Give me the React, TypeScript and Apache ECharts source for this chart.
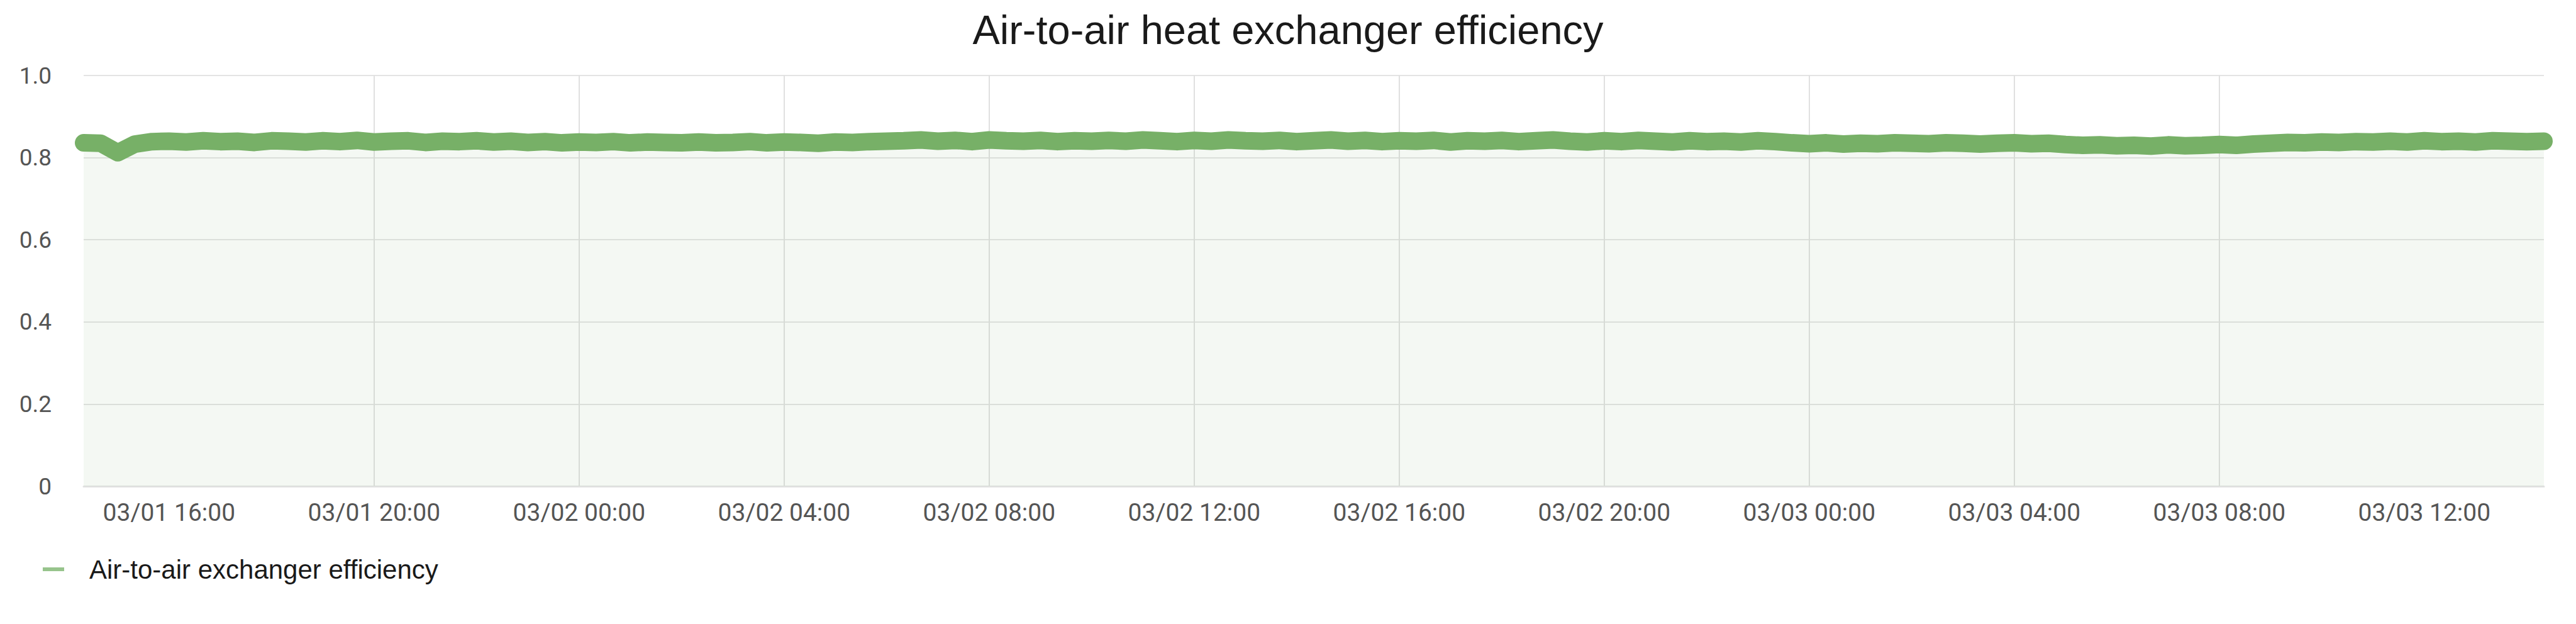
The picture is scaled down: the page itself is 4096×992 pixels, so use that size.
import React, { useEffect, useRef } from "react";
import * as echarts from "echarts";

const TITLE = "Air-to-air heat exchanger efficiency";
const SERIES_NAME = "Air-to-air exchanger efficiency";

// x is measured in hours since 03/01 00:00; samples every 20 minutes from 03/01 14:20
const START_HOUR = 14 + 20 / 60;
const STEP_HOURS = 20 / 60;
const END_HOUR = START_HOUR + 48;

const VALUES = [
  0.836, 0.835, 0.812, 0.833, 0.839, 0.840, 0.838, 0.841, 0.839, 0.840, 0.837, 0.841,
  0.840, 0.838, 0.841, 0.839, 0.842, 0.838, 0.840, 0.841, 0.837, 0.840, 0.839, 0.841,
  0.838, 0.840, 0.837, 0.839, 0.836, 0.838, 0.837, 0.839, 0.836, 0.838, 0.837, 0.836,
  0.838, 0.836, 0.837, 0.839, 0.836, 0.838, 0.837, 0.835, 0.838, 0.837, 0.839, 0.840,
  0.841, 0.843, 0.840, 0.842, 0.839, 0.843, 0.841, 0.840, 0.842, 0.839, 0.841, 0.840,
  0.842, 0.840, 0.843, 0.841, 0.839, 0.842, 0.840, 0.843, 0.841, 0.840, 0.842, 0.839,
  0.841, 0.843, 0.840, 0.842, 0.839, 0.841, 0.840, 0.842, 0.838, 0.841, 0.840, 0.842,
  0.839, 0.841, 0.843, 0.840, 0.838, 0.841, 0.839, 0.842, 0.840, 0.838, 0.841, 0.839,
  0.840, 0.838, 0.841, 0.839, 0.836, 0.834, 0.836, 0.833, 0.835, 0.834, 0.836, 0.835,
  0.834, 0.836, 0.835, 0.833, 0.835, 0.836, 0.834, 0.835, 0.832, 0.830, 0.831, 0.829,
  0.830, 0.828, 0.831, 0.829, 0.830, 0.832, 0.830, 0.833, 0.835, 0.837, 0.836, 0.838,
  0.837, 0.839, 0.838, 0.840, 0.838, 0.841, 0.839, 0.840, 0.838, 0.841, 0.840, 0.839,
  0.840,
];

const X_TICK_HOURS = [16, 20, 24, 28, 32, 36, 40, 44, 48, 52, 56, 60];
const X_TICK_LABELS = [
  "03/01 16:00", "03/01 20:00", "03/02 00:00", "03/02 04:00", "03/02 08:00", "03/02 12:00",
  "03/02 16:00", "03/02 20:00", "03/03 00:00", "03/03 04:00", "03/03 08:00", "03/03 12:00",
];
const Y_MIN = 0;
const Y_MAX = 1;
const Y_STEP = 0.2;

export default function App() {
  const ref = useRef<HTMLDivElement>(null);

  useEffect(() => {
    if (!ref.current) return;
    const chart = echarts.init(ref.current, undefined, { renderer: "svg" });
    const data = VALUES.map((v, i) => [START_HOUR + i * STEP_HOURS, v]);
    const lineColor = "#77b067";

    chart.setOption({
      animation: false,
      backgroundColor: "#ffffff",
      title: {
        text: TITLE,
        left: "center",
        top: 15,
        padding: 0,
        textStyle: {
          fontFamily: "'Liberation Sans', Arial, sans-serif",
          fontSize: 65,
          fontWeight: "normal",
          color: "#1a1a1a",
        },
      },
      legend: {
        left: 68,
        top: 884,
        padding: 0,
        itemWidth: 34,
        itemHeight: 6,
        icon: "rect",
        data: [{ name: SERIES_NAME, itemStyle: { color: "#97c48c" } }],
        textStyle: {
          fontFamily: "'Liberation Sans', Arial, sans-serif",
          fontSize: 42,
          color: "#1a1a1a",
          padding: [0, 0, 0, 35],
        },
      },
      grid: { left: 133, right: 51, top: 120, bottom: 219, containLabel: false },
      xAxis: {
        type: "value",
        min: START_HOUR,
        max: END_HOUR,
        axisLine: { show: true, lineStyle: { color: "#e2e2e2", width: 3 } },
        axisTick: { show: false, customValues: X_TICK_HOURS },
        axisLabel: {
          customValues: X_TICK_HOURS,
          margin: 22,
          fontFamily: "Roboto, sans-serif",
          fontSize: 39,
          color: "#555555",
          formatter: (v: number) => {
            const idx = X_TICK_HOURS.indexOf(Math.round(v));
            return idx >= 0 ? X_TICK_LABELS[idx] : "";
          },
        },
        splitLine: {
          show: true,
          showMinLine: false,
          showMaxLine: false,
          lineStyle: { color: "#e0e0e0", width: 2 },
        },
      },
      yAxis: {
        type: "value",
        min: Y_MIN,
        max: Y_MAX,
        interval: Y_STEP,
        axisLine: { show: false },
        axisTick: { show: false },
        axisLabel: {
          margin: 51,
          fontFamily: "Roboto, sans-serif",
          fontSize: 37,
          color: "#555555",
          formatter: (v: number) => (v === 0 ? "0" : v.toFixed(1)),
        },
        splitLine: { show: true, lineStyle: { color: "#e4e4e4", width: 2 } },
      },
      series: [
        {
          name: SERIES_NAME,
          type: "line",
          data,
          showSymbol: false,
          symbol: "none",
          clip: true,
          lineStyle: { color: lineColor, width: 28, cap: "round", join: "round" },
          itemStyle: { color: lineColor },
          areaStyle: { color: "rgba(120,176,104,0.12)" },
          z: 3,
        },
      ],
    });

    return () => chart.dispose();
  }, []);

  return (
    <div
      ref={ref}
      style={{ position: "fixed", left: 0, top: 0, width: 4096, height: 992 }}
    />
  );
}
